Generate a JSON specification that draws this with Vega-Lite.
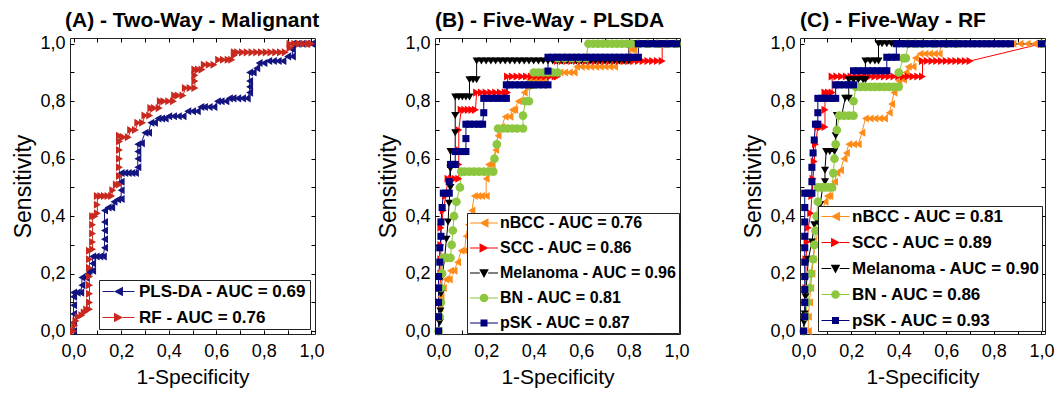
{
"$schema": "https://vega.github.io/schema/vega-lite/v6.json",
"background": "white",
"padding": {"left": 12, "top": 9, "right": 0, "bottom": 0},
"datasets": {
"A": [
{"s":"PLS","x":0,"y":0},{"s":"PLS","x":0,"y":0.03},{"s":"PLS","x":0,"y":0.06},{"s":"PLS","x":0,"y":0.09},{"s":"PLS","x":0,"y":0.12},{"s":"PLS","x":0,"y":0.134},{"s":"PLS","x":0.015,"y":0.134},{"s":"PLS","x":0.03,"y":0.134},{"s":"PLS","x":0.035,"y":0.16},{"s":"PLS","x":0.035,"y":0.187},{"s":"PLS","x":0.05,"y":0.187},{"s":"PLS","x":0.06,"y":0.2},{"s":"PLS","x":0.065,"y":0.21},{"s":"PLS","x":0.08,"y":0.21},{"s":"PLS","x":0.08,"y":0.235},{"s":"PLS","x":0.08,"y":0.26},{"s":"PLS","x":0.095,"y":0.26},{"s":"PLS","x":0.11,"y":0.26},{"s":"PLS","x":0.125,"y":0.26},{"s":"PLS","x":0.13,"y":0.29},{"s":"PLS","x":0.13,"y":0.32},{"s":"PLS","x":0.13,"y":0.35},{"s":"PLS","x":0.13,"y":0.38},{"s":"PLS","x":0.13,"y":0.42},{"s":"PLS","x":0.145,"y":0.43},{"s":"PLS","x":0.16,"y":0.43},{"s":"PLS","x":0.17,"y":0.45},{"s":"PLS","x":0.185,"y":0.458},{"s":"PLS","x":0.2,"y":0.46},{"s":"PLS","x":0.2,"y":0.49},{"s":"PLS","x":0.2,"y":0.52},{"s":"PLS","x":0.2,"y":0.55},{"s":"PLS","x":0.215,"y":0.55},{"s":"PLS","x":0.23,"y":0.55},{"s":"PLS","x":0.245,"y":0.55},{"s":"PLS","x":0.26,"y":0.55},{"s":"PLS","x":0.27,"y":0.57},{"s":"PLS","x":0.27,"y":0.6},{"s":"PLS","x":0.27,"y":0.625},{"s":"PLS","x":0.27,"y":0.65},{"s":"PLS","x":0.285,"y":0.654},{"s":"PLS","x":0.3,"y":0.69},{"s":"PLS","x":0.315,"y":0.69},{"s":"PLS","x":0.325,"y":0.725},{"s":"PLS","x":0.34,"y":0.725},{"s":"PLS","x":0.355,"y":0.74},{"s":"PLS","x":0.37,"y":0.74},{"s":"PLS","x":0.385,"y":0.74},{"s":"PLS","x":0.4,"y":0.748},{"s":"PLS","x":0.42,"y":0.748},{"s":"PLS","x":0.44,"y":0.748},{"s":"PLS","x":0.46,"y":0.748},{"s":"PLS","x":0.48,"y":0.765},{"s":"PLS","x":0.5,"y":0.765},{"s":"PLS","x":0.52,"y":0.765},{"s":"PLS","x":0.535,"y":0.78},{"s":"PLS","x":0.55,"y":0.78},{"s":"PLS","x":0.57,"y":0.78},{"s":"PLS","x":0.59,"y":0.78},{"s":"PLS","x":0.605,"y":0.8},{"s":"PLS","x":0.62,"y":0.8},{"s":"PLS","x":0.64,"y":0.8},{"s":"PLS","x":0.655,"y":0.81},{"s":"PLS","x":0.67,"y":0.81},{"s":"PLS","x":0.69,"y":0.81},{"s":"PLS","x":0.71,"y":0.81},{"s":"PLS","x":0.73,"y":0.81},{"s":"PLS","x":0.74,"y":0.83},{"s":"PLS","x":0.74,"y":0.85},{"s":"PLS","x":0.74,"y":0.87},{"s":"PLS","x":0.74,"y":0.9},{"s":"PLS","x":0.755,"y":0.9},{"s":"PLS","x":0.77,"y":0.915},{"s":"PLS","x":0.78,"y":0.933},{"s":"PLS","x":0.8,"y":0.933},{"s":"PLS","x":0.82,"y":0.94},{"s":"PLS","x":0.84,"y":0.94},{"s":"PLS","x":0.86,"y":0.94},{"s":"PLS","x":0.88,"y":0.94},{"s":"PLS","x":0.9,"y":0.956},{"s":"PLS","x":0.92,"y":0.956},{"s":"PLS","x":0.92,"y":0.98},{"s":"PLS","x":0.92,"y":1},{"s":"PLS","x":0.94,"y":1},{"s":"PLS","x":0.96,"y":1},{"s":"PLS","x":0.98,"y":1},{"s":"PLS","x":1,"y":1},
{"s":"RF","x":0,"y":0},{"s":"RF","x":0.005,"y":0.02},{"s":"RF","x":0.01,"y":0.035},{"s":"RF","x":0.02,"y":0.05},{"s":"RF","x":0.035,"y":0.055},{"s":"RF","x":0.045,"y":0.065},{"s":"RF","x":0.055,"y":0.075},{"s":"RF","x":0.067,"y":0.076},{"s":"RF","x":0.067,"y":0.1},{"s":"RF","x":0.067,"y":0.13},{"s":"RF","x":0.067,"y":0.16},{"s":"RF","x":0.067,"y":0.19},{"s":"RF","x":0.067,"y":0.22},{"s":"RF","x":0.067,"y":0.25},{"s":"RF","x":0.067,"y":0.28},{"s":"RF","x":0.08,"y":0.285},{"s":"RF","x":0.08,"y":0.31},{"s":"RF","x":0.08,"y":0.34},{"s":"RF","x":0.08,"y":0.37},{"s":"RF","x":0.08,"y":0.4},{"s":"RF","x":0.09,"y":0.4},{"s":"RF","x":0.1,"y":0.41},{"s":"RF","x":0.1,"y":0.44},{"s":"RF","x":0.1,"y":0.47},{"s":"RF","x":0.115,"y":0.47},{"s":"RF","x":0.13,"y":0.47},{"s":"RF","x":0.145,"y":0.47},{"s":"RF","x":0.16,"y":0.47},{"s":"RF","x":0.165,"y":0.49},{"s":"RF","x":0.18,"y":0.51},{"s":"RF","x":0.193,"y":0.51},{"s":"RF","x":0.193,"y":0.54},{"s":"RF","x":0.193,"y":0.57},{"s":"RF","x":0.193,"y":0.6},{"s":"RF","x":0.193,"y":0.63},{"s":"RF","x":0.193,"y":0.66},{"s":"RF","x":0.193,"y":0.68},{"s":"RF","x":0.21,"y":0.675},{"s":"RF","x":0.23,"y":0.675},{"s":"RF","x":0.24,"y":0.7},{"s":"RF","x":0.26,"y":0.7},{"s":"RF","x":0.27,"y":0.725},{"s":"RF","x":0.29,"y":0.725},{"s":"RF","x":0.3,"y":0.75},{"s":"RF","x":0.32,"y":0.75},{"s":"RF","x":0.325,"y":0.776},{"s":"RF","x":0.34,"y":0.776},{"s":"RF","x":0.36,"y":0.776},{"s":"RF","x":0.365,"y":0.8},{"s":"RF","x":0.38,"y":0.8},{"s":"RF","x":0.4,"y":0.8},{"s":"RF","x":0.42,"y":0.8},{"s":"RF","x":0.425,"y":0.82},{"s":"RF","x":0.44,"y":0.82},{"s":"RF","x":0.46,"y":0.82},{"s":"RF","x":0.47,"y":0.846},{"s":"RF","x":0.49,"y":0.846},{"s":"RF","x":0.51,"y":0.846},{"s":"RF","x":0.51,"y":0.87},{"s":"RF","x":0.51,"y":0.89},{"s":"RF","x":0.51,"y":0.91},{"s":"RF","x":0.525,"y":0.91},{"s":"RF","x":0.54,"y":0.91},{"s":"RF","x":0.55,"y":0.927},{"s":"RF","x":0.57,"y":0.927},{"s":"RF","x":0.59,"y":0.927},{"s":"RF","x":0.61,"y":0.944},{"s":"RF","x":0.63,"y":0.944},{"s":"RF","x":0.65,"y":0.944},{"s":"RF","x":0.665,"y":0.944},{"s":"RF","x":0.676,"y":0.96},{"s":"RF","x":0.676,"y":0.97},{"s":"RF","x":0.69,"y":0.97},{"s":"RF","x":0.71,"y":0.97},{"s":"RF","x":0.73,"y":0.97},{"s":"RF","x":0.75,"y":0.97},{"s":"RF","x":0.77,"y":0.97},{"s":"RF","x":0.79,"y":0.97},{"s":"RF","x":0.81,"y":0.97},{"s":"RF","x":0.83,"y":0.97},{"s":"RF","x":0.85,"y":0.97},{"s":"RF","x":0.87,"y":0.97},{"s":"RF","x":0.89,"y":0.97},{"s":"RF","x":0.91,"y":0.985},{"s":"RF","x":0.91,"y":1},{"s":"RF","x":0.93,"y":1},{"s":"RF","x":0.95,"y":1},{"s":"RF","x":0.97,"y":1},{"s":"RF","x":0.99,"y":1},{"s":"RF","x":1,"y":1}
],
"B": [
{"s":"nBCC","x":0,"y":0},{"s":"nBCC","x":0,"y":0.04},{"s":"nBCC","x":0.005,"y":0.08},{"s":"nBCC","x":0.01,"y":0.12},{"s":"nBCC","x":0.02,"y":0.15},{"s":"nBCC","x":0.03,"y":0.18},{"s":"nBCC","x":0.045,"y":0.18},{"s":"nBCC","x":0.05,"y":0.21},{"s":"nBCC","x":0.065,"y":0.21},{"s":"nBCC","x":0.08,"y":0.24},{"s":"nBCC","x":0.095,"y":0.28},{"s":"nBCC","x":0.11,"y":0.28},{"s":"nBCC","x":0.115,"y":0.33},{"s":"nBCC","x":0.125,"y":0.37},{"s":"nBCC","x":0.14,"y":0.42},{"s":"nBCC","x":0.15,"y":0.47},{"s":"nBCC","x":0.165,"y":0.47},{"s":"nBCC","x":0.18,"y":0.47},{"s":"nBCC","x":0.2,"y":0.47},{"s":"nBCC","x":0.2,"y":0.53},{"s":"nBCC","x":0.21,"y":0.58},{"s":"nBCC","x":0.225,"y":0.58},{"s":"nBCC","x":0.24,"y":0.63},{"s":"nBCC","x":0.25,"y":0.68},{"s":"nBCC","x":0.265,"y":0.71},{"s":"nBCC","x":0.28,"y":0.746},{"s":"nBCC","x":0.3,"y":0.746},{"s":"nBCC","x":0.31,"y":0.77},{"s":"nBCC","x":0.32,"y":0.77},{"s":"nBCC","x":0.335,"y":0.8},{"s":"nBCC","x":0.35,"y":0.8},{"s":"nBCC","x":0.36,"y":0.83},{"s":"nBCC","x":0.37,"y":0.85},{"s":"nBCC","x":0.38,"y":0.875},{"s":"nBCC","x":0.4,"y":0.875},{"s":"nBCC","x":0.42,"y":0.875},{"s":"nBCC","x":0.44,"y":0.875},{"s":"nBCC","x":0.45,"y":0.9},{"s":"nBCC","x":0.47,"y":0.9},{"s":"nBCC","x":0.49,"y":0.9},{"s":"nBCC","x":0.51,"y":0.9},{"s":"nBCC","x":0.53,"y":0.9},{"s":"nBCC","x":0.55,"y":0.9},{"s":"nBCC","x":0.57,"y":0.9},{"s":"nBCC","x":0.58,"y":0.92},{"s":"nBCC","x":0.6,"y":0.92},{"s":"nBCC","x":0.62,"y":0.92},{"s":"nBCC","x":0.64,"y":0.92},{"s":"nBCC","x":0.66,"y":0.92},{"s":"nBCC","x":0.68,"y":0.92},{"s":"nBCC","x":0.7,"y":0.92},{"s":"nBCC","x":0.72,"y":0.92},{"s":"nBCC","x":0.74,"y":0.92},{"s":"nBCC","x":0.76,"y":0.94},{"s":"nBCC","x":0.78,"y":0.94},{"s":"nBCC","x":0.8,"y":0.94},{"s":"nBCC","x":0.81,"y":0.98},{"s":"nBCC","x":0.82,"y":0.98},{"s":"nBCC","x":0.83,"y":1},{"s":"nBCC","x":0.86,"y":1},{"s":"nBCC","x":0.89,"y":1},{"s":"nBCC","x":0.92,"y":1},{"s":"nBCC","x":0.95,"y":1},{"s":"nBCC","x":0.98,"y":1},{"s":"nBCC","x":1,"y":1},
{"s":"SCC","x":0,"y":0},{"s":"SCC","x":0.005,"y":0.05},{"s":"SCC","x":0.005,"y":0.1},{"s":"SCC","x":0.005,"y":0.15},{"s":"SCC","x":0.01,"y":0.2},{"s":"SCC","x":0.01,"y":0.25},{"s":"SCC","x":0.01,"y":0.3},{"s":"SCC","x":0.01,"y":0.36},{"s":"SCC","x":0.02,"y":0.42},{"s":"SCC","x":0.03,"y":0.47},{"s":"SCC","x":0.04,"y":0.53},{"s":"SCC","x":0.055,"y":0.53},{"s":"SCC","x":0.07,"y":0.53},{"s":"SCC","x":0.085,"y":0.53},{"s":"SCC","x":0.085,"y":0.58},{"s":"SCC","x":0.085,"y":0.63},{"s":"SCC","x":0.085,"y":0.7},{"s":"SCC","x":0.095,"y":0.77},{"s":"SCC","x":0.11,"y":0.77},{"s":"SCC","x":0.125,"y":0.77},{"s":"SCC","x":0.14,"y":0.77},{"s":"SCC","x":0.155,"y":0.77},{"s":"SCC","x":0.16,"y":0.83},{"s":"SCC","x":0.18,"y":0.83},{"s":"SCC","x":0.2,"y":0.83},{"s":"SCC","x":0.22,"y":0.83},{"s":"SCC","x":0.24,"y":0.83},{"s":"SCC","x":0.26,"y":0.83},{"s":"SCC","x":0.28,"y":0.83},{"s":"SCC","x":0.29,"y":0.83},{"s":"SCC","x":0.29,"y":0.886},{"s":"SCC","x":0.31,"y":0.886},{"s":"SCC","x":0.33,"y":0.886},{"s":"SCC","x":0.35,"y":0.886},{"s":"SCC","x":0.37,"y":0.886},{"s":"SCC","x":0.39,"y":0.886},{"s":"SCC","x":0.41,"y":0.886},{"s":"SCC","x":0.43,"y":0.886},{"s":"SCC","x":0.45,"y":0.886},{"s":"SCC","x":0.47,"y":0.886},{"s":"SCC","x":0.49,"y":0.886},{"s":"SCC","x":0.5,"y":0.886},{"s":"SCC","x":0.5,"y":0.94},{"s":"SCC","x":0.52,"y":0.94},{"s":"SCC","x":0.54,"y":0.94},{"s":"SCC","x":0.56,"y":0.94},{"s":"SCC","x":0.58,"y":0.94},{"s":"SCC","x":0.6,"y":0.94},{"s":"SCC","x":0.62,"y":0.94},{"s":"SCC","x":0.64,"y":0.94},{"s":"SCC","x":0.66,"y":0.94},{"s":"SCC","x":0.68,"y":0.94},{"s":"SCC","x":0.7,"y":0.94},{"s":"SCC","x":0.72,"y":0.94},{"s":"SCC","x":0.74,"y":0.94},{"s":"SCC","x":0.76,"y":0.94},{"s":"SCC","x":0.78,"y":0.94},{"s":"SCC","x":0.8,"y":0.94},{"s":"SCC","x":0.82,"y":0.94},{"s":"SCC","x":0.84,"y":0.94},{"s":"SCC","x":0.86,"y":0.94},{"s":"SCC","x":0.88,"y":0.94},{"s":"SCC","x":0.9,"y":0.94},{"s":"SCC","x":0.92,"y":0.94},{"s":"SCC","x":0.94,"y":0.94},{"s":"SCC","x":0.94,"y":1},{"s":"SCC","x":0.97,"y":1},{"s":"SCC","x":1,"y":1},
{"s":"Melanoma","x":0,"y":0},{"s":"Melanoma","x":0.005,"y":0.03},{"s":"Melanoma","x":0.008,"y":0.07},{"s":"Melanoma","x":0.01,"y":0.13},{"s":"Melanoma","x":0.015,"y":0.19},{"s":"Melanoma","x":0.025,"y":0.25},{"s":"Melanoma","x":0.033,"y":0.32},{"s":"Melanoma","x":0.04,"y":0.38},{"s":"Melanoma","x":0.044,"y":0.445},{"s":"Melanoma","x":0.05,"y":0.5},{"s":"Melanoma","x":0.05,"y":0.565},{"s":"Melanoma","x":0.05,"y":0.625},{"s":"Melanoma","x":0.06,"y":0.625},{"s":"Melanoma","x":0.07,"y":0.625},{"s":"Melanoma","x":0.07,"y":0.69},{"s":"Melanoma","x":0.07,"y":0.75},{"s":"Melanoma","x":0.07,"y":0.815},{"s":"Melanoma","x":0.085,"y":0.815},{"s":"Melanoma","x":0.1,"y":0.815},{"s":"Melanoma","x":0.115,"y":0.815},{"s":"Melanoma","x":0.13,"y":0.815},{"s":"Melanoma","x":0.13,"y":0.875},{"s":"Melanoma","x":0.145,"y":0.875},{"s":"Melanoma","x":0.16,"y":0.875},{"s":"Melanoma","x":0.16,"y":0.94},{"s":"Melanoma","x":0.18,"y":0.94},{"s":"Melanoma","x":0.2,"y":0.94},{"s":"Melanoma","x":0.22,"y":0.94},{"s":"Melanoma","x":0.24,"y":0.94},{"s":"Melanoma","x":0.26,"y":0.94},{"s":"Melanoma","x":0.28,"y":0.94},{"s":"Melanoma","x":0.3,"y":0.94},{"s":"Melanoma","x":0.32,"y":0.94},{"s":"Melanoma","x":0.34,"y":0.94},{"s":"Melanoma","x":0.36,"y":0.94},{"s":"Melanoma","x":0.38,"y":0.94},{"s":"Melanoma","x":0.4,"y":0.94},{"s":"Melanoma","x":0.42,"y":0.94},{"s":"Melanoma","x":0.44,"y":0.94},{"s":"Melanoma","x":0.46,"y":0.94},{"s":"Melanoma","x":0.48,"y":0.94},{"s":"Melanoma","x":0.5,"y":0.94},{"s":"Melanoma","x":0.52,"y":0.94},{"s":"Melanoma","x":0.54,"y":0.94},{"s":"Melanoma","x":0.56,"y":0.94},{"s":"Melanoma","x":0.58,"y":0.94},{"s":"Melanoma","x":0.6,"y":0.94},{"s":"Melanoma","x":0.62,"y":0.94},{"s":"Melanoma","x":0.64,"y":0.94},{"s":"Melanoma","x":0.66,"y":0.94},{"s":"Melanoma","x":0.68,"y":0.94},{"s":"Melanoma","x":0.7,"y":0.94},{"s":"Melanoma","x":0.72,"y":0.94},{"s":"Melanoma","x":0.74,"y":0.94},{"s":"Melanoma","x":0.76,"y":0.94},{"s":"Melanoma","x":0.78,"y":0.94},{"s":"Melanoma","x":0.8,"y":0.94},{"s":"Melanoma","x":0.8,"y":1},{"s":"Melanoma","x":0.83,"y":1},{"s":"Melanoma","x":0.86,"y":1},{"s":"Melanoma","x":0.89,"y":1},{"s":"Melanoma","x":0.92,"y":1},{"s":"Melanoma","x":0.95,"y":1},{"s":"Melanoma","x":0.98,"y":1},{"s":"Melanoma","x":1,"y":1},
{"s":"BN","x":0,"y":0},{"s":"BN","x":0.005,"y":0.05},{"s":"BN","x":0.01,"y":0.1},{"s":"BN","x":0.01,"y":0.15},{"s":"BN","x":0.015,"y":0.2},{"s":"BN","x":0.02,"y":0.255},{"s":"BN","x":0.035,"y":0.255},{"s":"BN","x":0.05,"y":0.255},{"s":"BN","x":0.055,"y":0.3},{"s":"BN","x":0.06,"y":0.35},{"s":"BN","x":0.065,"y":0.4},{"s":"BN","x":0.075,"y":0.45},{"s":"BN","x":0.09,"y":0.5},{"s":"BN","x":0.095,"y":0.555},{"s":"BN","x":0.11,"y":0.555},{"s":"BN","x":0.13,"y":0.555},{"s":"BN","x":0.15,"y":0.555},{"s":"BN","x":0.17,"y":0.555},{"s":"BN","x":0.19,"y":0.555},{"s":"BN","x":0.21,"y":0.555},{"s":"BN","x":0.23,"y":0.555},{"s":"BN","x":0.235,"y":0.6},{"s":"BN","x":0.245,"y":0.65},{"s":"BN","x":0.25,"y":0.705},{"s":"BN","x":0.27,"y":0.705},{"s":"BN","x":0.29,"y":0.705},{"s":"BN","x":0.31,"y":0.705},{"s":"BN","x":0.33,"y":0.705},{"s":"BN","x":0.355,"y":0.705},{"s":"BN","x":0.355,"y":0.75},{"s":"BN","x":0.365,"y":0.8},{"s":"BN","x":0.38,"y":0.8},{"s":"BN","x":0.385,"y":0.857},{"s":"BN","x":0.395,"y":0.857},{"s":"BN","x":0.4,"y":0.9},{"s":"BN","x":0.42,"y":0.9},{"s":"BN","x":0.44,"y":0.9},{"s":"BN","x":0.46,"y":0.9},{"s":"BN","x":0.48,"y":0.9},{"s":"BN","x":0.5,"y":0.9},{"s":"BN","x":0.5,"y":0.95},{"s":"BN","x":0.53,"y":0.95},{"s":"BN","x":0.56,"y":0.95},{"s":"BN","x":0.59,"y":0.95},{"s":"BN","x":0.62,"y":0.95},{"s":"BN","x":0.63,"y":1},{"s":"BN","x":0.65,"y":1},{"s":"BN","x":0.67,"y":1},{"s":"BN","x":0.69,"y":1},{"s":"BN","x":0.71,"y":1},{"s":"BN","x":0.73,"y":1},{"s":"BN","x":0.75,"y":1},{"s":"BN","x":0.77,"y":1},{"s":"BN","x":0.79,"y":1},{"s":"BN","x":0.81,"y":1},{"s":"BN","x":0.84,"y":1},{"s":"BN","x":0.88,"y":1},{"s":"BN","x":0.92,"y":1},{"s":"BN","x":0.96,"y":1},{"s":"BN","x":1,"y":1},
{"s":"pSK","x":0,"y":0},{"s":"pSK","x":0,"y":0.05},{"s":"pSK","x":0,"y":0.1},{"s":"pSK","x":0,"y":0.15},{"s":"pSK","x":0,"y":0.19},{"s":"pSK","x":0.005,"y":0.24},{"s":"pSK","x":0.005,"y":0.29},{"s":"pSK","x":0.01,"y":0.33},{"s":"pSK","x":0.01,"y":0.38},{"s":"pSK","x":0.015,"y":0.43},{"s":"pSK","x":0.02,"y":0.48},{"s":"pSK","x":0.03,"y":0.48},{"s":"pSK","x":0.045,"y":0.48},{"s":"pSK","x":0.045,"y":0.52},{"s":"pSK","x":0.05,"y":0.58},{"s":"pSK","x":0.06,"y":0.58},{"s":"pSK","x":0.07,"y":0.58},{"s":"pSK","x":0.07,"y":0.625},{"s":"pSK","x":0.085,"y":0.625},{"s":"pSK","x":0.1,"y":0.625},{"s":"pSK","x":0.115,"y":0.625},{"s":"pSK","x":0.115,"y":0.67},{"s":"pSK","x":0.115,"y":0.72},{"s":"pSK","x":0.13,"y":0.72},{"s":"pSK","x":0.15,"y":0.72},{"s":"pSK","x":0.17,"y":0.72},{"s":"pSK","x":0.185,"y":0.72},{"s":"pSK","x":0.19,"y":0.76},{"s":"pSK","x":0.19,"y":0.81},{"s":"pSK","x":0.21,"y":0.81},{"s":"pSK","x":0.23,"y":0.81},{"s":"pSK","x":0.25,"y":0.81},{"s":"pSK","x":0.27,"y":0.81},{"s":"pSK","x":0.285,"y":0.81},{"s":"pSK","x":0.285,"y":0.857},{"s":"pSK","x":0.3,"y":0.857},{"s":"pSK","x":0.32,"y":0.857},{"s":"pSK","x":0.34,"y":0.857},{"s":"pSK","x":0.36,"y":0.857},{"s":"pSK","x":0.38,"y":0.857},{"s":"pSK","x":0.4,"y":0.857},{"s":"pSK","x":0.42,"y":0.857},{"s":"pSK","x":0.44,"y":0.857},{"s":"pSK","x":0.46,"y":0.857},{"s":"pSK","x":0.46,"y":0.905},{"s":"pSK","x":0.46,"y":0.953},{"s":"pSK","x":0.48,"y":0.953},{"s":"pSK","x":0.5,"y":0.953},{"s":"pSK","x":0.52,"y":0.953},{"s":"pSK","x":0.54,"y":0.953},{"s":"pSK","x":0.56,"y":0.953},{"s":"pSK","x":0.58,"y":0.953},{"s":"pSK","x":0.6,"y":0.953},{"s":"pSK","x":0.62,"y":0.953},{"s":"pSK","x":0.64,"y":0.953},{"s":"pSK","x":0.66,"y":0.953},{"s":"pSK","x":0.68,"y":0.953},{"s":"pSK","x":0.7,"y":0.953},{"s":"pSK","x":0.72,"y":0.953},{"s":"pSK","x":0.74,"y":0.953},{"s":"pSK","x":0.76,"y":0.953},{"s":"pSK","x":0.78,"y":0.953},{"s":"pSK","x":0.8,"y":0.953},{"s":"pSK","x":0.82,"y":0.953},{"s":"pSK","x":0.84,"y":0.953},{"s":"pSK","x":0.84,"y":1},{"s":"pSK","x":0.86,"y":1},{"s":"pSK","x":0.88,"y":1},{"s":"pSK","x":0.9,"y":1},{"s":"pSK","x":0.92,"y":1},{"s":"pSK","x":0.94,"y":1},{"s":"pSK","x":0.96,"y":1},{"s":"pSK","x":0.98,"y":1},{"s":"pSK","x":1,"y":1}
],
"C": [
{"s":"nBCC","x":0.02,"y":0},{"s":"nBCC","x":0.02,"y":0.05},{"s":"nBCC","x":0.025,"y":0.1},{"s":"nBCC","x":0.03,"y":0.15},{"s":"nBCC","x":0.035,"y":0.2},{"s":"nBCC","x":0.04,"y":0.25},{"s":"nBCC","x":0.05,"y":0.3},{"s":"nBCC","x":0.06,"y":0.35},{"s":"nBCC","x":0.075,"y":0.4},{"s":"nBCC","x":0.09,"y":0.45},{"s":"nBCC","x":0.1,"y":0.47},{"s":"nBCC","x":0.11,"y":0.47},{"s":"nBCC","x":0.12,"y":0.5},{"s":"nBCC","x":0.13,"y":0.52},{"s":"nBCC","x":0.14,"y":0.55},{"s":"nBCC","x":0.155,"y":0.56},{"s":"nBCC","x":0.17,"y":0.6},{"s":"nBCC","x":0.18,"y":0.62},{"s":"nBCC","x":0.19,"y":0.65},{"s":"nBCC","x":0.21,"y":0.65},{"s":"nBCC","x":0.23,"y":0.65},{"s":"nBCC","x":0.245,"y":0.69},{"s":"nBCC","x":0.26,"y":0.74},{"s":"nBCC","x":0.28,"y":0.74},{"s":"nBCC","x":0.3,"y":0.74},{"s":"nBCC","x":0.32,"y":0.74},{"s":"nBCC","x":0.34,"y":0.74},{"s":"nBCC","x":0.36,"y":0.76},{"s":"nBCC","x":0.37,"y":0.79},{"s":"nBCC","x":0.38,"y":0.83},{"s":"nBCC","x":0.39,"y":0.85},{"s":"nBCC","x":0.4,"y":0.87},{"s":"nBCC","x":0.42,"y":0.875},{"s":"nBCC","x":0.43,"y":0.9},{"s":"nBCC","x":0.44,"y":0.92},{"s":"nBCC","x":0.46,"y":0.92},{"s":"nBCC","x":0.47,"y":0.95},{"s":"nBCC","x":0.49,"y":0.965},{"s":"nBCC","x":0.51,"y":0.965},{"s":"nBCC","x":0.53,"y":0.965},{"s":"nBCC","x":0.55,"y":0.965},{"s":"nBCC","x":0.57,"y":0.965},{"s":"nBCC","x":0.58,"y":1},{"s":"nBCC","x":0.61,"y":1},{"s":"nBCC","x":0.64,"y":1},{"s":"nBCC","x":0.67,"y":1},{"s":"nBCC","x":0.7,"y":1},{"s":"nBCC","x":0.73,"y":1},{"s":"nBCC","x":0.76,"y":1},{"s":"nBCC","x":0.79,"y":1},{"s":"nBCC","x":0.82,"y":1},{"s":"nBCC","x":0.85,"y":1},{"s":"nBCC","x":0.88,"y":1},{"s":"nBCC","x":0.91,"y":1},{"s":"nBCC","x":0.94,"y":1},{"s":"nBCC","x":0.97,"y":1},{"s":"nBCC","x":1,"y":1},
{"s":"SCC","x":0,"y":0},{"s":"SCC","x":0.005,"y":0.05},{"s":"SCC","x":0.01,"y":0.1},{"s":"SCC","x":0.01,"y":0.15},{"s":"SCC","x":0.01,"y":0.19},{"s":"SCC","x":0.01,"y":0.25},{"s":"SCC","x":0.015,"y":0.31},{"s":"SCC","x":0.02,"y":0.36},{"s":"SCC","x":0.03,"y":0.41},{"s":"SCC","x":0.035,"y":0.47},{"s":"SCC","x":0.04,"y":0.53},{"s":"SCC","x":0.045,"y":0.59},{"s":"SCC","x":0.05,"y":0.65},{"s":"SCC","x":0.06,"y":0.71},{"s":"SCC","x":0.075,"y":0.71},{"s":"SCC","x":0.09,"y":0.71},{"s":"SCC","x":0.09,"y":0.77},{"s":"SCC","x":0.09,"y":0.83},{"s":"SCC","x":0.105,"y":0.83},{"s":"SCC","x":0.12,"y":0.83},{"s":"SCC","x":0.12,"y":0.886},{"s":"SCC","x":0.14,"y":0.886},{"s":"SCC","x":0.16,"y":0.886},{"s":"SCC","x":0.18,"y":0.886},{"s":"SCC","x":0.2,"y":0.886},{"s":"SCC","x":0.22,"y":0.886},{"s":"SCC","x":0.24,"y":0.886},{"s":"SCC","x":0.26,"y":0.886},{"s":"SCC","x":0.28,"y":0.886},{"s":"SCC","x":0.3,"y":0.886},{"s":"SCC","x":0.32,"y":0.886},{"s":"SCC","x":0.34,"y":0.886},{"s":"SCC","x":0.36,"y":0.886},{"s":"SCC","x":0.38,"y":0.886},{"s":"SCC","x":0.4,"y":0.886},{"s":"SCC","x":0.42,"y":0.886},{"s":"SCC","x":0.44,"y":0.886},{"s":"SCC","x":0.46,"y":0.886},{"s":"SCC","x":0.48,"y":0.886},{"s":"SCC","x":0.5,"y":0.886},{"s":"SCC","x":0.5,"y":0.94},{"s":"SCC","x":0.52,"y":0.94},{"s":"SCC","x":0.54,"y":0.94},{"s":"SCC","x":0.56,"y":0.94},{"s":"SCC","x":0.58,"y":0.94},{"s":"SCC","x":0.6,"y":0.94},{"s":"SCC","x":0.62,"y":0.94},{"s":"SCC","x":0.64,"y":0.94},{"s":"SCC","x":0.66,"y":0.94},{"s":"SCC","x":0.68,"y":0.94},{"s":"SCC","x":0.7,"y":0.94},{"s":"SCC","x":1,"y":1},
{"s":"Melanoma","x":0,"y":0},{"s":"Melanoma","x":0.002,"y":0.03},{"s":"Melanoma","x":0.005,"y":0.06},{"s":"Melanoma","x":0.008,"y":0.12},{"s":"Melanoma","x":0.015,"y":0.19},{"s":"Melanoma","x":0.02,"y":0.25},{"s":"Melanoma","x":0.035,"y":0.31},{"s":"Melanoma","x":0.045,"y":0.37},{"s":"Melanoma","x":0.06,"y":0.38},{"s":"Melanoma","x":0.07,"y":0.44},{"s":"Melanoma","x":0.08,"y":0.5},{"s":"Melanoma","x":0.09,"y":0.52},{"s":"Melanoma","x":0.09,"y":0.56},{"s":"Melanoma","x":0.095,"y":0.625},{"s":"Melanoma","x":0.11,"y":0.625},{"s":"Melanoma","x":0.13,"y":0.625},{"s":"Melanoma","x":0.135,"y":0.68},{"s":"Melanoma","x":0.14,"y":0.75},{"s":"Melanoma","x":0.16,"y":0.75},{"s":"Melanoma","x":0.175,"y":0.81},{"s":"Melanoma","x":0.19,"y":0.81},{"s":"Melanoma","x":0.19,"y":0.875},{"s":"Melanoma","x":0.21,"y":0.875},{"s":"Melanoma","x":0.23,"y":0.875},{"s":"Melanoma","x":0.25,"y":0.875},{"s":"Melanoma","x":0.26,"y":0.875},{"s":"Melanoma","x":0.26,"y":0.94},{"s":"Melanoma","x":0.28,"y":0.94},{"s":"Melanoma","x":0.3,"y":0.94},{"s":"Melanoma","x":0.315,"y":0.94},{"s":"Melanoma","x":0.315,"y":1},{"s":"Melanoma","x":0.33,"y":1},{"s":"Melanoma","x":0.35,"y":1},{"s":"Melanoma","x":0.37,"y":1},{"s":"Melanoma","x":0.39,"y":1},{"s":"Melanoma","x":0.42,"y":1},{"s":"Melanoma","x":0.46,"y":1},{"s":"Melanoma","x":0.5,"y":1},{"s":"Melanoma","x":0.55,"y":1},{"s":"Melanoma","x":0.6,"y":1},{"s":"Melanoma","x":0.64,"y":1},{"s":"Melanoma","x":1,"y":1},
{"s":"BN","x":0,"y":0},{"s":"BN","x":0.01,"y":0.05},{"s":"BN","x":0.015,"y":0.1},{"s":"BN","x":0.025,"y":0.15},{"s":"BN","x":0.03,"y":0.2},{"s":"BN","x":0.04,"y":0.25},{"s":"BN","x":0.045,"y":0.3},{"s":"BN","x":0.05,"y":0.35},{"s":"BN","x":0.055,"y":0.4},{"s":"BN","x":0.06,"y":0.45},{"s":"BN","x":0.06,"y":0.5},{"s":"BN","x":0.075,"y":0.5},{"s":"BN","x":0.09,"y":0.5},{"s":"BN","x":0.105,"y":0.5},{"s":"BN","x":0.12,"y":0.5},{"s":"BN","x":0.125,"y":0.55},{"s":"BN","x":0.13,"y":0.6},{"s":"BN","x":0.135,"y":0.65},{"s":"BN","x":0.14,"y":0.7},{"s":"BN","x":0.15,"y":0.75},{"s":"BN","x":0.17,"y":0.75},{"s":"BN","x":0.19,"y":0.75},{"s":"BN","x":0.21,"y":0.75},{"s":"BN","x":0.21,"y":0.8},{"s":"BN","x":0.22,"y":0.85},{"s":"BN","x":0.24,"y":0.85},{"s":"BN","x":0.26,"y":0.85},{"s":"BN","x":0.28,"y":0.85},{"s":"BN","x":0.3,"y":0.85},{"s":"BN","x":0.32,"y":0.85},{"s":"BN","x":0.34,"y":0.85},{"s":"BN","x":0.36,"y":0.85},{"s":"BN","x":0.38,"y":0.85},{"s":"BN","x":0.4,"y":0.85},{"s":"BN","x":0.4,"y":0.9},{"s":"BN","x":0.42,"y":0.95},{"s":"BN","x":0.43,"y":0.95},{"s":"BN","x":0.44,"y":1},{"s":"BN","x":0.47,"y":1},{"s":"BN","x":0.5,"y":1},{"s":"BN","x":0.55,"y":1},{"s":"BN","x":0.6,"y":1},{"s":"BN","x":0.64,"y":1},{"s":"BN","x":1,"y":1},
{"s":"pSK","x":0,"y":0},{"s":"pSK","x":0.005,"y":0.05},{"s":"pSK","x":0.005,"y":0.1},{"s":"pSK","x":0.005,"y":0.145},{"s":"pSK","x":0.005,"y":0.19},{"s":"pSK","x":0.005,"y":0.24},{"s":"pSK","x":0.005,"y":0.29},{"s":"pSK","x":0.005,"y":0.33},{"s":"pSK","x":0.005,"y":0.38},{"s":"pSK","x":0.005,"y":0.43},{"s":"pSK","x":0.005,"y":0.48},{"s":"pSK","x":0.02,"y":0.48},{"s":"pSK","x":0.035,"y":0.48},{"s":"pSK","x":0.035,"y":0.52},{"s":"pSK","x":0.035,"y":0.57},{"s":"pSK","x":0.04,"y":0.62},{"s":"pSK","x":0.045,"y":0.665},{"s":"pSK","x":0.05,"y":0.72},{"s":"pSK","x":0.06,"y":0.72},{"s":"pSK","x":0.06,"y":0.76},{"s":"pSK","x":0.06,"y":0.81},{"s":"pSK","x":0.075,"y":0.81},{"s":"pSK","x":0.09,"y":0.81},{"s":"pSK","x":0.105,"y":0.81},{"s":"pSK","x":0.12,"y":0.81},{"s":"pSK","x":0.135,"y":0.81},{"s":"pSK","x":0.135,"y":0.857},{"s":"pSK","x":0.15,"y":0.857},{"s":"pSK","x":0.17,"y":0.857},{"s":"pSK","x":0.19,"y":0.857},{"s":"pSK","x":0.21,"y":0.857},{"s":"pSK","x":0.21,"y":0.906},{"s":"pSK","x":0.23,"y":0.906},{"s":"pSK","x":0.25,"y":0.906},{"s":"pSK","x":0.27,"y":0.906},{"s":"pSK","x":0.29,"y":0.906},{"s":"pSK","x":0.31,"y":0.906},{"s":"pSK","x":0.33,"y":0.906},{"s":"pSK","x":0.35,"y":0.906},{"s":"pSK","x":0.35,"y":0.953},{"s":"pSK","x":0.37,"y":0.953},{"s":"pSK","x":0.39,"y":0.953},{"s":"pSK","x":0.39,"y":1},{"s":"pSK","x":0.41,"y":1},{"s":"pSK","x":0.43,"y":1},{"s":"pSK","x":0.45,"y":1},{"s":"pSK","x":0.47,"y":1},{"s":"pSK","x":0.49,"y":1},{"s":"pSK","x":0.51,"y":1},{"s":"pSK","x":0.53,"y":1},{"s":"pSK","x":0.55,"y":1},{"s":"pSK","x":0.57,"y":1},{"s":"pSK","x":0.59,"y":1},{"s":"pSK","x":0.61,"y":1},{"s":"pSK","x":0.63,"y":1},{"s":"pSK","x":0.65,"y":1},{"s":"pSK","x":0.67,"y":1},{"s":"pSK","x":0.69,"y":1},{"s":"pSK","x":0.71,"y":1},{"s":"pSK","x":0.73,"y":1},{"s":"pSK","x":0.75,"y":1},{"s":"pSK","x":0.77,"y":1},{"s":"pSK","x":0.79,"y":1},{"s":"pSK","x":0.81,"y":1},{"s":"pSK","x":0.83,"y":1},{"s":"pSK","x":0.85,"y":1},{"s":"pSK","x":0.87,"y":1},{"s":"pSK","x":1,"y":1}
]
},
"hconcat": [
{
"width": 245, "height": 296,
"title": {"text": "(A) - Two-Way - Malignant", "dx": -5},
"data": {"name": "A"},
"encoding": {
"color": {"field": "s", "type": "nominal", "scale": {"domain": ["PLS", "RF"], "range": ["#141480", "#c8281e"]},
"legend": {"title": null, "orient": "bottom-right", "offset": 5, "labelFontSize": 17, "labelFontWeight": "bold", "labelColor": "#000", "labelLimit": 400, "labelExpr": "datum.label == 'PLS' ? 'PLS-DA - AUC = 0.69' : 'RF - AUC = 0.76'", "strokeColor": "#222", "fillColor": "#ffffff", "padding": 3, "rowPadding": 8, "symbolSize": 256, "labelOffset": 20, "symbolStrokeWidth": 0, "symbolOpacity": 1}}
},
"layer": [
{"mark": {"type": "line", "strokeWidth": 1},
"encoding": {
"x": {"field": "x", "type": "quantitative", "scale": {"domain": [-0.015, 1.015], "nice": false, "zero": false}, "axis": {"orient": "bottom", "title": "1-Specificity", "values": [0,0.1,0.2,0.3,0.4,0.5,0.6,0.7,0.8,0.9,1], "labelExpr": "round(datum.value*10) % 2 == 0 ? replace(format(datum.value, '.1f'), '.', ',') : ''"}},
"y": {"field": "y", "type": "quantitative", "scale": {"domain": [-0.01, 1.02], "nice": false, "zero": false}, "axis": {"orient": "left", "title": "Sensitivity", "values": [0,0.1,0.2,0.3,0.4,0.5,0.6,0.7,0.8,0.9,1], "labelExpr": "round(datum.value*10) % 2 == 0 ? replace(format(datum.value, '.1f'), '.', ',') : ''"}},
"order": {"value": null}}},
{"transform": [{"filter": "datum.x > 5"}],
"mark": {"type": "point", "filled": true, "opacity": 1, "size": 55},
"encoding": {
"x": {"field": "x", "type": "quantitative", "scale": {"domain": [-0.015, 1.015], "nice": false, "zero": false}, "axis": {"orient": "top", "title": null, "labels": false, "values": [0,0.1,0.2,0.3,0.4,0.5,0.6,0.7,0.8,0.9,1]}},
"y": {"field": "y", "type": "quantitative", "scale": {"domain": [-0.01, 1.02], "nice": false, "zero": false}, "axis": {"orient": "right", "title": null, "labels": false, "values": [0,0.1,0.2,0.3,0.4,0.5,0.6,0.7,0.8,0.9,1]}},
"shape": {"field": "s", "type": "nominal", "scale": {"domain": ["PLS", "RF"], "range": [
"M-1,-0.07H0.44V0.07H-1Z M1.56,-0.07H3V0.07H1.56Z M0.44,0L1.56,-0.6L1.56,0.6Z",
"M-1,-0.07H0.44V0.07H-1Z M1.56,-0.07H3V0.07H1.56Z M1.56,0L0.44,-0.6L0.44,0.6Z"]},
"legend": {"title": null, "orient": "bottom-right", "offset": 5, "labelFontSize": 17, "labelFontWeight": "bold", "labelColor": "#000", "labelLimit": 400, "labelExpr": "datum.label == 'PLS' ? 'PLS-DA - AUC = 0.69' : 'RF - AUC = 0.76'", "strokeColor": "#222", "fillColor": "#ffffff", "padding": 3, "rowPadding": 8, "symbolSize": 256, "labelOffset": 20, "symbolStrokeWidth": 0, "symbolOpacity": 1}}}},
{"transform": [{"filter": "datum.s == 'PLS'"}],
"mark": {"type": "point", "shape": "triangle-left", "filled": true, "opacity": 1, "size": 65},
"encoding": {
"x": {"field": "x", "type": "quantitative", "scale": {"domain": [-0.015, 1.015], "nice": false, "zero": false}, "axis": null},
"y": {"field": "y", "type": "quantitative", "scale": {"domain": [-0.01, 1.02], "nice": false, "zero": false}, "axis": null}}},
{"transform": [{"filter": "datum.s == 'RF'"}],
"mark": {"type": "point", "shape": "triangle-right", "filled": true, "opacity": 1, "size": 65},
"encoding": {
"x": {"field": "x", "type": "quantitative", "scale": {"domain": [-0.015, 1.015], "nice": false, "zero": false}, "axis": null},
"y": {"field": "y", "type": "quantitative", "scale": {"domain": [-0.01, 1.02], "nice": false, "zero": false}, "axis": null}}}
],
"resolve": {"axis": {"x": "independent", "y": "independent"}}
},
{
"width": 245, "height": 296,
"title": {"text": "(B) - Five-Way - PLSDA"},
"data": {"name": "B"},
"encoding": {
"color": {"field": "s", "type": "nominal", "scale": {"domain": ["nBCC", "SCC", "Melanoma", "BN", "pSK"], "range": ["#ff8c1a", "#ff0000", "#000000", "#8dc63f", "#00007f"]},
"legend": {"title": null, "orient": "bottom-right", "offset": 1, "labelFontSize": 16, "labelFontWeight": "bold", "labelColor": "#000", "labelLimit": 400, "labelExpr": "datum.label + ' - AUC = ' + (datum.label == 'nBCC' ? '0.76' : datum.label == 'SCC' ? '0.86' : datum.label == 'Melanoma' ? '0.96' : datum.label == 'BN' ? '0.81' : '0.87')", "strokeColor": "#222", "fillColor": "#ffffff", "padding": 2, "rowPadding": 9, "symbolSize": 196, "labelOffset": 15, "symbolStrokeWidth": 0, "symbolOpacity": 1}}
},
"layer": [
{"mark": {"type": "line", "strokeWidth": 1},
"encoding": {
"x": {"field": "x", "type": "quantitative", "scale": {"domain": [-0.015, 1.015], "nice": false, "zero": false}, "axis": {"orient": "bottom", "title": "1-Specificity", "values": [0,0.1,0.2,0.3,0.4,0.5,0.6,0.7,0.8,0.9,1], "labelExpr": "round(datum.value*10) % 2 == 0 ? replace(format(datum.value, '.1f'), '.', ',') : ''"}},
"y": {"field": "y", "type": "quantitative", "scale": {"domain": [-0.01, 1.02], "nice": false, "zero": false}, "axis": {"orient": "left", "title": "Sensitivity", "values": [0,0.1,0.2,0.3,0.4,0.5,0.6,0.7,0.8,0.9,1], "labelExpr": "round(datum.value*10) % 2 == 0 ? replace(format(datum.value, '.1f'), '.', ',') : ''"}},
"order": {"value": null}}},
{"transform": [{"filter": "datum.x > 5"}],
"mark": {"type": "point", "filled": true, "opacity": 1, "size": 55},
"encoding": {
"x": {"field": "x", "type": "quantitative", "scale": {"domain": [-0.015, 1.015], "nice": false, "zero": false}, "axis": {"orient": "top", "title": null, "labels": false, "values": [0,0.1,0.2,0.3,0.4,0.5,0.6,0.7,0.8,0.9,1]}},
"y": {"field": "y", "type": "quantitative", "scale": {"domain": [-0.01, 1.02], "nice": false, "zero": false}, "axis": {"orient": "right", "title": null, "labels": false, "values": [0,0.1,0.2,0.3,0.4,0.5,0.6,0.7,0.8,0.9,1]}},
"shape": {"field": "s", "type": "nominal", "scale": {"domain": ["nBCC", "SCC", "Melanoma", "BN", "pSK"], "range": [
"M-1,-0.07H0.4V0.07H-1Z M1.6,-0.07H3V0.07H1.6Z M0.36,0L1.64,-0.68L1.64,0.68Z",
"M-1,-0.07H0.4V0.07H-1Z M1.6,-0.07H3V0.07H1.6Z M1.64,0L0.36,-0.68L0.36,0.68Z",
"M-1,-0.07H0.4V0.07H-1Z M1.6,-0.07H3V0.07H1.6Z M0.32,-0.55L1.68,-0.55L1,0.7Z",
"M-1,-0.07H0.4V0.07H-1Z M1.6,-0.07H3V0.07H1.6Z M1.62,0A0.62,0.62,0,1,1,0.38,0A0.62,0.62,0,1,1,1.62,0Z",
"M-1,-0.07H0.5V0.07H-1Z M1.5,-0.07H3V0.07H1.5Z M0.5,-0.5H1.5V0.5H0.5Z"]},
"legend": {"title": null, "orient": "bottom-right", "offset": 1, "labelFontSize": 16, "labelFontWeight": "bold", "labelColor": "#000", "labelLimit": 400, "labelExpr": "datum.label + ' - AUC = ' + (datum.label == 'nBCC' ? '0.76' : datum.label == 'SCC' ? '0.86' : datum.label == 'Melanoma' ? '0.96' : datum.label == 'BN' ? '0.81' : '0.87')", "strokeColor": "#222", "fillColor": "#ffffff", "padding": 2, "rowPadding": 9, "symbolSize": 196, "labelOffset": 15, "symbolStrokeWidth": 0, "symbolOpacity": 1}}}},
{"transform": [{"filter": "datum.s == 'nBCC'"}], "mark": {"type": "point", "shape": "triangle-left", "filled": true, "opacity": 1, "size": 65},
"encoding": {"x": {"field": "x", "type": "quantitative", "scale": {"domain": [-0.015, 1.015], "nice": false, "zero": false}, "axis": null}, "y": {"field": "y", "type": "quantitative", "scale": {"domain": [-0.01, 1.02], "nice": false, "zero": false}, "axis": null}}},
{"transform": [{"filter": "datum.s == 'SCC'"}], "mark": {"type": "point", "shape": "triangle-right", "filled": true, "opacity": 1, "size": 65},
"encoding": {"x": {"field": "x", "type": "quantitative", "scale": {"domain": [-0.015, 1.015], "nice": false, "zero": false}, "axis": null}, "y": {"field": "y", "type": "quantitative", "scale": {"domain": [-0.01, 1.02], "nice": false, "zero": false}, "axis": null}}},
{"transform": [{"filter": "datum.s == 'Melanoma'"}], "mark": {"type": "point", "shape": "triangle-down", "filled": true, "opacity": 1, "size": 65},
"encoding": {"x": {"field": "x", "type": "quantitative", "scale": {"domain": [-0.015, 1.015], "nice": false, "zero": false}, "axis": null}, "y": {"field": "y", "type": "quantitative", "scale": {"domain": [-0.01, 1.02], "nice": false, "zero": false}, "axis": null}}},
{"transform": [{"filter": "datum.s == 'BN'"}], "mark": {"type": "point", "shape": "circle", "filled": true, "opacity": 1, "size": 75},
"encoding": {"x": {"field": "x", "type": "quantitative", "scale": {"domain": [-0.015, 1.015], "nice": false, "zero": false}, "axis": null}, "y": {"field": "y", "type": "quantitative", "scale": {"domain": [-0.01, 1.02], "nice": false, "zero": false}, "axis": null}}},
{"transform": [{"filter": "datum.s == 'pSK'"}], "mark": {"type": "point", "shape": "square", "filled": true, "opacity": 1, "size": 50},
"encoding": {"x": {"field": "x", "type": "quantitative", "scale": {"domain": [-0.015, 1.015], "nice": false, "zero": false}, "axis": null}, "y": {"field": "y", "type": "quantitative", "scale": {"domain": [-0.01, 1.02], "nice": false, "zero": false}, "axis": null}}}
],
"resolve": {"axis": {"x": "independent", "y": "independent"}}
},
{
"width": 245, "height": 296,
"title": {"text": "(C) - Five-Way - RF"},
"data": {"name": "C"},
"encoding": {
"color": {"field": "s", "type": "nominal", "scale": {"domain": ["nBCC", "SCC", "Melanoma", "BN", "pSK"], "range": ["#ff8c1a", "#ff0000", "#000000", "#8dc63f", "#00007f"]},
"legend": {"title": null, "orient": "bottom-right", "offset": 3, "labelFontSize": 17, "labelFontWeight": "bold", "labelColor": "#000", "labelLimit": 400, "labelExpr": "datum.label + ' - AUC = ' + (datum.label == 'nBCC' ? '0.81' : datum.label == 'SCC' ? '0.89' : datum.label == 'Melanoma' ? '0.90' : datum.label == 'BN' ? '0.86' : '0.93')", "strokeColor": "#222", "fillColor": "#ffffff", "padding": 2, "rowPadding": 8, "symbolSize": 196, "labelOffset": 15, "symbolStrokeWidth": 0, "symbolOpacity": 1}}
},
"layer": [
{"mark": {"type": "line", "strokeWidth": 1},
"encoding": {
"x": {"field": "x", "type": "quantitative", "scale": {"domain": [-0.015, 1.015], "nice": false, "zero": false}, "axis": {"orient": "bottom", "title": "1-Specificity", "values": [0,0.1,0.2,0.3,0.4,0.5,0.6,0.7,0.8,0.9,1], "labelExpr": "round(datum.value*10) % 2 == 0 ? replace(format(datum.value, '.1f'), '.', ',') : ''"}},
"y": {"field": "y", "type": "quantitative", "scale": {"domain": [-0.01, 1.02], "nice": false, "zero": false}, "axis": {"orient": "left", "title": "Sensitivity", "values": [0,0.1,0.2,0.3,0.4,0.5,0.6,0.7,0.8,0.9,1], "labelExpr": "round(datum.value*10) % 2 == 0 ? replace(format(datum.value, '.1f'), '.', ',') : ''"}},
"order": {"value": null}}},
{"transform": [{"filter": "datum.x > 5"}],
"mark": {"type": "point", "filled": true, "opacity": 1, "size": 55},
"encoding": {
"x": {"field": "x", "type": "quantitative", "scale": {"domain": [-0.015, 1.015], "nice": false, "zero": false}, "axis": {"orient": "top", "title": null, "labels": false, "values": [0,0.1,0.2,0.3,0.4,0.5,0.6,0.7,0.8,0.9,1]}},
"y": {"field": "y", "type": "quantitative", "scale": {"domain": [-0.01, 1.02], "nice": false, "zero": false}, "axis": {"orient": "right", "title": null, "labels": false, "values": [0,0.1,0.2,0.3,0.4,0.5,0.6,0.7,0.8,0.9,1]}},
"shape": {"field": "s", "type": "nominal", "scale": {"domain": ["nBCC", "SCC", "Melanoma", "BN", "pSK"], "range": [
"M-1,-0.07H0.4V0.07H-1Z M1.6,-0.07H3V0.07H1.6Z M0.36,0L1.64,-0.68L1.64,0.68Z",
"M-1,-0.07H0.4V0.07H-1Z M1.6,-0.07H3V0.07H1.6Z M1.64,0L0.36,-0.68L0.36,0.68Z",
"M-1,-0.07H0.4V0.07H-1Z M1.6,-0.07H3V0.07H1.6Z M0.32,-0.55L1.68,-0.55L1,0.7Z",
"M-1,-0.07H0.4V0.07H-1Z M1.6,-0.07H3V0.07H1.6Z M1.62,0A0.62,0.62,0,1,1,0.38,0A0.62,0.62,0,1,1,1.62,0Z",
"M-1,-0.07H0.5V0.07H-1Z M1.5,-0.07H3V0.07H1.5Z M0.5,-0.5H1.5V0.5H0.5Z"]},
"legend": {"title": null, "orient": "bottom-right", "offset": 3, "labelFontSize": 17, "labelFontWeight": "bold", "labelColor": "#000", "labelLimit": 400, "labelExpr": "datum.label + ' - AUC = ' + (datum.label == 'nBCC' ? '0.81' : datum.label == 'SCC' ? '0.89' : datum.label == 'Melanoma' ? '0.90' : datum.label == 'BN' ? '0.86' : '0.93')", "strokeColor": "#222", "fillColor": "#ffffff", "padding": 2, "rowPadding": 8, "symbolSize": 196, "labelOffset": 15, "symbolStrokeWidth": 0, "symbolOpacity": 1}}}},
{"transform": [{"filter": "datum.s == 'nBCC'"}], "mark": {"type": "point", "shape": "triangle-left", "filled": true, "opacity": 1, "size": 65},
"encoding": {"x": {"field": "x", "type": "quantitative", "scale": {"domain": [-0.015, 1.015], "nice": false, "zero": false}, "axis": null}, "y": {"field": "y", "type": "quantitative", "scale": {"domain": [-0.01, 1.02], "nice": false, "zero": false}, "axis": null}}},
{"transform": [{"filter": "datum.s == 'SCC'"}], "mark": {"type": "point", "shape": "triangle-right", "filled": true, "opacity": 1, "size": 65},
"encoding": {"x": {"field": "x", "type": "quantitative", "scale": {"domain": [-0.015, 1.015], "nice": false, "zero": false}, "axis": null}, "y": {"field": "y", "type": "quantitative", "scale": {"domain": [-0.01, 1.02], "nice": false, "zero": false}, "axis": null}}},
{"transform": [{"filter": "datum.s == 'Melanoma'"}], "mark": {"type": "point", "shape": "triangle-down", "filled": true, "opacity": 1, "size": 65},
"encoding": {"x": {"field": "x", "type": "quantitative", "scale": {"domain": [-0.015, 1.015], "nice": false, "zero": false}, "axis": null}, "y": {"field": "y", "type": "quantitative", "scale": {"domain": [-0.01, 1.02], "nice": false, "zero": false}, "axis": null}}},
{"transform": [{"filter": "datum.s == 'BN'"}], "mark": {"type": "point", "shape": "circle", "filled": true, "opacity": 1, "size": 75},
"encoding": {"x": {"field": "x", "type": "quantitative", "scale": {"domain": [-0.015, 1.015], "nice": false, "zero": false}, "axis": null}, "y": {"field": "y", "type": "quantitative", "scale": {"domain": [-0.01, 1.02], "nice": false, "zero": false}, "axis": null}}},
{"transform": [{"filter": "datum.s == 'pSK'"}], "mark": {"type": "point", "shape": "square", "filled": true, "opacity": 1, "size": 50},
"encoding": {"x": {"field": "x", "type": "quantitative", "scale": {"domain": [-0.015, 1.015], "nice": false, "zero": false}, "axis": null}, "y": {"field": "y", "type": "quantitative", "scale": {"domain": [-0.01, 1.02], "nice": false, "zero": false}, "axis": null}}}
],
"resolve": {"axis": {"x": "independent", "y": "independent"}}
}
],
"spacing": 120,
"bounds": "flush",
"resolve": {"scale": {"color": "independent", "shape": "independent", "x": "independent", "y": "independent"}, "legend": {"color": "independent", "shape": "independent"}},
"config": {
"font": "Liberation Sans",
"view": {"stroke": "#222222", "strokeWidth": 1},
"axis": {"domain": false, "grid": false, "tickSize": -4, "tickColor": "#000000", "tickWidth": 1, "labelFont": "Liberation Sans", "labelFontSize": 18, "labelColor": "#000000", "titleFont": "Liberation Sans", "titleFontWeight": "normal", "titleColor": "#000000"},
"axisX": {"labelPadding": 12, "titleFontSize": 21, "titlePadding": 6},
"axisY": {"labelPadding": 9, "titleFontSize": 23, "titlePadding": 4},
"title": {"fontSize": 21, "fontWeight": "bold", "anchor": "start", "frame": "group", "color": "#000000", "offset": 4, "font": "Liberation Sans"}
}
}
